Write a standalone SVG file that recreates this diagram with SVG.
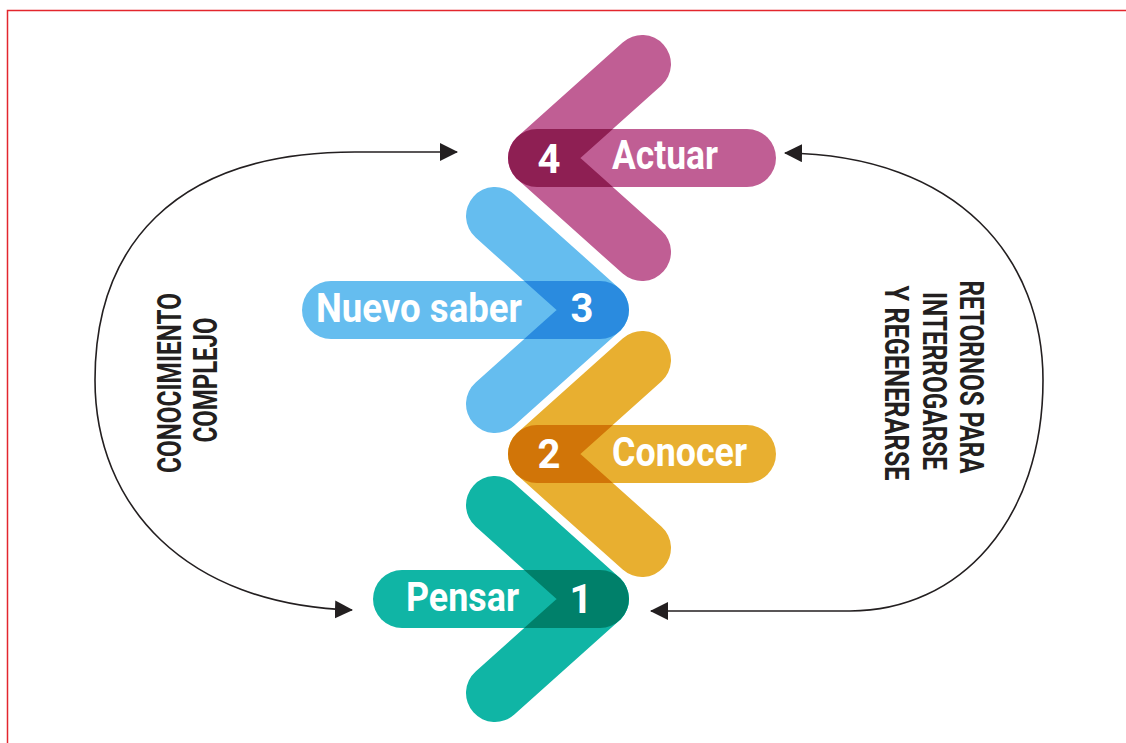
<svg xmlns="http://www.w3.org/2000/svg" width="1126" height="743" viewBox="0 0 1126 743">
<defs>
<style>
.lbl{font-family:Roboto,"Liberation Sans",sans-serif;font-weight:bold;font-size:40px;fill:#fff}
.side{font-family:Roboto,"Liberation Sans",sans-serif;font-weight:bold;font-size:33px;fill:#231f20;text-anchor:middle}
.conn{fill:none;stroke:#231f20;stroke-width:1.6}
.chev{fill:none;stroke-width:58;stroke-linecap:round;stroke-linejoin:round}
</style>
<marker id="ah" viewBox="0 0 18 18" refX="17" refY="9" markerWidth="18" markerHeight="18" markerUnits="userSpaceOnUse" orient="auto-start-reverse">
<path d="M0 0 L18 9 L0 18 Z" fill="#231f20"/>
</marker>
<clipPath id="c4"><rect x="508" y="129" width="268" height="58" rx="29"/></clipPath>
<clipPath id="c3"><rect x="302" y="281" width="327" height="58" rx="29"/></clipPath>
<clipPath id="c2"><rect x="508" y="425" width="268" height="58" rx="29"/></clipPath>
<clipPath id="c1"><rect x="373" y="570" width="256" height="58" rx="29"/></clipPath>
</defs>
<rect width="1126" height="743" fill="#fff"/>
<path d="M7.5 743 L7.5 10.5 L1126 10.5" fill="none" stroke="#e3262d" stroke-width="1.5"/>

<g id="connectors">
<path class="conn" marker-start="url(#ah)" marker-end="url(#ah)" d="M457 152 L355 152 C170 152 95 250 95 380 C95 505 185 605 352 610"/>
<path class="conn" marker-start="url(#ah)" marker-end="url(#ah)" d="M651 611 L850 611 C960 611 1043 520 1043 380 C1043 260 960 155 785 153"/>
</g>

<g id="step4">
<rect x="508" y="129" width="268" height="58" rx="29" fill="#c05e94"/>
<path class="chev" stroke="#c05e94" d="M642 64 L537 158 L642 252"/>
<path class="chev" stroke="#8e1f53" d="M642 64 L537 158 L642 252" clip-path="url(#c4)"/>
<text class="lbl" x="549" y="173" text-anchor="middle">4</text>
<text class="lbl" x="612" y="169" textLength="106" lengthAdjust="spacingAndGlyphs">Actuar</text>
</g>

<g id="step3">
<rect x="302" y="281" width="327" height="58" rx="29" fill="#65bdef"/>
<path class="chev" stroke="#65bdef" d="M495 216 L600 310 L495 404"/>
<path class="chev" stroke="#2a8bdf" d="M495 216 L600 310 L495 404" clip-path="url(#c3)"/>
<text class="lbl" x="316" y="322" textLength="206" lengthAdjust="spacingAndGlyphs">Nuevo saber</text>
<text class="lbl" x="582" y="322" text-anchor="middle">3</text>
</g>

<g id="step2">
<rect x="508" y="425" width="268" height="58" rx="29" fill="#e8af30"/>
<path class="chev" stroke="#e8af30" d="M642 360 L537 454 L642 548"/>
<path class="chev" stroke="#d17508" d="M642 360 L537 454 L642 548" clip-path="url(#c2)"/>
<text class="lbl" x="549" y="468" text-anchor="middle">2</text>
<text class="lbl" x="612" y="466" textLength="135" lengthAdjust="spacingAndGlyphs">Conocer</text>
</g>

<g id="step1">
<rect x="373" y="570" width="256" height="58" rx="29" fill="#10b5a5"/>
<path class="chev" stroke="#10b5a5" d="M495 505 L600 599 L495 693"/>
<path class="chev" stroke="#00806a" d="M495 505 L600 599 L495 693" clip-path="url(#c1)"/>
<text class="lbl" x="406" y="611" textLength="113" lengthAdjust="spacingAndGlyphs">Pensar</text>
<text class="lbl" x="581" y="613" text-anchor="middle">1</text>
</g>

<g id="label-left">
<text class="side" transform="translate(181 383) rotate(-90)" textLength="180" lengthAdjust="spacingAndGlyphs">CONOCIMIENTO</text>
<text class="side" transform="translate(217 380) rotate(-90)" textLength="125" lengthAdjust="spacingAndGlyphs">COMPLEJO</text>
</g>

<g id="label-right">
<text class="side" transform="translate(960 377) rotate(90)" textLength="193" lengthAdjust="spacingAndGlyphs">RETORNOS PARA</text>
<text class="side" transform="translate(923 381) rotate(90)" textLength="178" lengthAdjust="spacingAndGlyphs">INTERROGARSE</text>
<text class="side" transform="translate(885 383) rotate(90)" textLength="195" lengthAdjust="spacingAndGlyphs">Y REGENERARSE</text>
</g>
</svg>
